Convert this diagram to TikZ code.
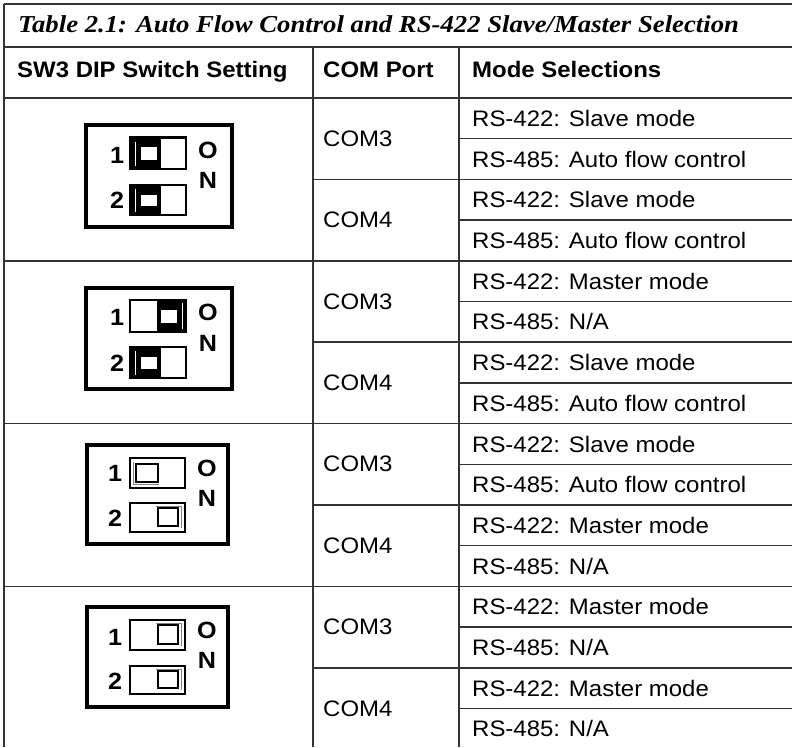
\documentclass[tikz,border=0pt]{standalone}
\usepackage{fontspec}
\setmainfont{Liberation Sans}[FakeStretch=1.07]
\newfontfamily\titlefont{Liberation Serif}[FakeStretch=1.1]
\tikzset{
  grid/.style={draw=black!80, line width=1.5},
  txt/.style={inner sep=0pt, anchor=base west, font=\fontsize{22.4}{26}\selectfont},
  hdr/.style={inner sep=0pt, anchor=base west, font=\fontsize{22.4}{26}\selectfont\bfseries},
  lab/.style={inner sep=0pt, anchor=center, font=\fontsize{23.5}{27}\selectfont\bfseries},
  dipframe/.style={draw=black, line width=3.3},
  swframe/.style={draw=black, line width=2.5},
}
% switch with heavy knob on the left / right, light knob on the left / right
\newcommand\swHL[4]{%
  \fill (#1,#2) rectangle ({#1+31},#4);
  \fill[white] ({#1+11},{#2+9.5}) rectangle ({#1+27},{#4-9});
  \draw[white,line width=0.8] ({#1+5},{#2+4}) -- ({#1+5},{#4-3});
  \draw[swframe] (#1,#2) rectangle (#3,#4);}
\newcommand\swHR[4]{%
  \fill ({#3-29},#2) rectangle (#3,#4);
  \fill[white] ({#3-25},{#2+10}) rectangle ({#3-9},{#4-9});
  \draw[white,line width=0.8] ({#3-3.5},{#2+3}) -- ({#3-3.5},{#4-3});
  \draw[swframe] (#1,#2) rectangle (#3,#4);}
\newcommand\swLL[4]{%
  \draw[line width=2.6] ({#1+6},{#2+6}) rectangle ({#1+28},{#4-6});
  \draw[black!50,line width=0.6] ({#1+3.5},{#2+4}) |- ({#1+29},{#4-3.5});
  \draw[swframe] (#1,#2) rectangle (#3,#4);}
\newcommand\swLR[4]{%
  \draw[line width=2.6] ({#3-27},{#2+5}) rectangle ({#3-7},{#4-6});
  \draw[black!50,line width=0.6] ({#3-29},{#2+3.5}) -| ({#3-3.5},{#4-4});
  \draw[swframe] (#1,#2) rectangle (#3,#4);}
\begin{document}
\begin{tikzpicture}[x=1pt,y=-1pt]
\useasboundingbox (0,0) rectangle (792,747);
% ---------- grid ----------
\draw[grid] (4,4) -- (792,4);
\draw[grid] (4,47) -- (792,47);
\draw[grid] (4,98) -- (792,98);
\foreach \y in {260.8,423.6,586.4} \draw[grid] (4,\y) -- (792,\y);
\foreach \y in {179.4,342.2,505,667.8} \draw[grid] (313,\y) -- (792,\y);
\foreach \y in {138.7,220.1,301.5,382.9,464.3,545.7,627.1,708.5} \draw[grid] (459,\y) -- (792,\y);
\draw[grid] (4,4) -- (4,747);
\draw[grid] (313,47) -- (313,747);
\draw[grid] (459,47) -- (459,747);
% ---------- title and header ----------
\node[inner sep=0pt, anchor=base west, font=\titlefont\fontsize{24.3}{28}\selectfont\bfseries\itshape] (title) at (18,32)
  {Table 2.1: Auto Flow Control and RS-422 Slave/Master Selection};
\node[hdr] (h1) at (17,77) {SW3 DIP Switch Setting};
\node[hdr] (h2) at (323,77) {COM Port};
\node[hdr] (h3) at (472,77) {Mode Selections};
% ---------- COM column ----------
\node[txt] (c1) at (323,146.2) {COM3};
\node[txt] (c2) at (323,227.6) {COM4};
\node[txt] (c3) at (323,309.0) {COM3};
\node[txt] (c4) at (323,390.4) {COM4};
\node[txt] (c5) at (323,471.8) {COM3};
\node[txt] (c6) at (323,553.2) {COM4};
\node[txt] (c7) at (323,634.6) {COM3};
\node[txt] (c8) at (323,716.0) {COM4};
% ---------- mode column ----------
\node[txt] (m1)  at (472,126.4) {RS-422: Slave mode};
\node[txt] (m2)  at (472,167.1) {RS-485: Auto flow control};
\node[txt] (m3)  at (472,207.8) {RS-422: Slave mode};
\node[txt] (m4)  at (472,248.5) {RS-485: Auto flow control};
\node[txt] (m5)  at (472,289.2) {RS-422: Master mode};
\node[txt] (m6)  at (472,329.9) {RS-485: N/A};
\node[txt] (m7)  at (472,370.6) {RS-422: Slave mode};
\node[txt] (m8)  at (472,411.3) {RS-485: Auto flow control};
\node[txt] (m9)  at (472,452.0) {RS-422: Slave mode};
\node[txt] (m10) at (472,492.7) {RS-485: Auto flow control};
\node[txt] (m11) at (472,533.4) {RS-422: Master mode};
\node[txt] (m12) at (472,574.1) {RS-485: N/A};
\node[txt] (m13) at (472,614.8) {RS-422: Master mode};
\node[txt] (m14) at (472,655.5) {RS-485: N/A};
\node[txt] (m15) at (472,696.2) {RS-422: Master mode};
\node[txt] (m16) at (472,736.9) {RS-485: N/A};
% ---------- DIP switch 1 ----------
\draw[dipframe] (86,125) rectangle (232,227);
\swHL{130}{137.5}{186}{169}
\swHL{130}{185}{186}{215}
\node[lab] (d1a) at (117,155) {1};
\node[lab] (d1b) at (117,200) {2};
\node[lab] (d1o) at (208,150) {O};
\node[lab] (d1n) at (208,180) {N};
% ---------- DIP switch 2 ----------
\draw[dipframe] (86,288) rectangle (232,389);
\swHR{130}{300}{186}{332}
\swHL{130}{347}{186}{378}
\node[lab] (d2a) at (117,317) {1};
\node[lab] (d2b) at (117,363) {2};
\node[lab] (d2o) at (208,312) {O};
\node[lab] (d2n) at (208,343) {N};
% ---------- DIP switch 3 ----------
\draw[dipframe] (87,445) rectangle (228,544);
\swLL{130}{458}{185}{488}
\swLR{130}{503}{185}{532}
\node[lab] (d3a) at (115,473) {1};
\node[lab] (d3b) at (115,518) {2};
\node[lab] (d3o) at (207,468) {O};
\node[lab] (d3n) at (207,498) {N};
% ---------- DIP switch 4 ----------
\draw[dipframe] (87,607) rectangle (228,707);
\swLR{130}{620}{185}{650}
\swLR{130}{666}{185}{694}
\node[lab] (d4a) at (115,637) {1};
\node[lab] (d4b) at (115,681) {2};
\node[lab] (d4o) at (207,630) {O};
\node[lab] (d4n) at (207,660) {N};
\end{tikzpicture}
\end{document}
